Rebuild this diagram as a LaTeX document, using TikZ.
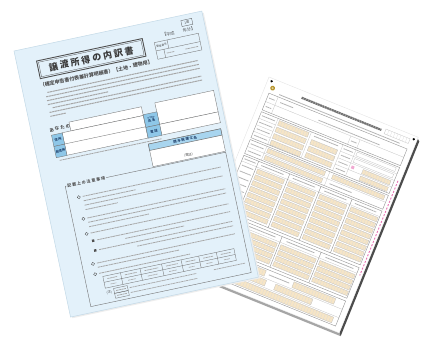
\documentclass[tikz,border=0pt]{standalone}
\usepackage{fontspec}
\newfontfamily\jp{Noto Sans CJK JP}
\definecolor{paperblue}{HTML}{E3F1FA}
\definecolor{edgeblue}{HTML}{C3D9E7}
\definecolor{cellblue}{HTML}{8EC7E8}
\definecolor{barblue}{HTML}{A8D5EF}
\definecolor{ink}{HTML}{505050}
\definecolor{navy}{HTML}{1F3F6A}
\definecolor{beige}{HTML}{F6E5C6}
\definecolor{pinkish}{HTML}{E872B4}
\definecolor{logo}{HTML}{B8962E}
\newcommand\dfield[4]{%
  \fill[beige] (#1,#2) rectangle ++(#3,#4);%
  \pgfmathtruncatemacro\dfn{(#3)/3-0.01}%
  \foreach \j in {1,...,\dfn}{\draw[tick] ({#1+3*\j},#2) -- ++(0,#4);}%
  \draw[rthin] (#1,#2) rectangle ++(#3,#4);}
\begin{document}
\begin{tikzpicture}[x=1pt,y=-1pt,
  txt/.style={line width=1pt, draw=black!35, dash pattern=on 2.2pt off 0.5pt},
  rtxt/.style={line width=0.8pt, draw=black!30, dash pattern=on 1.6pt off 0.4pt},
  frame/.style={draw=black!55, line width=0.35pt},
  rframe/.style={draw=black!42, line width=0.4pt},
  rthin/.style={draw=black!26, line width=0.25pt},
  tick/.style={draw=black!15, line width=0.2pt},
  jpt/.style={font=\jp\fontsize{3.2}{3.6}\selectfont, text=ink, inner sep=0.5pt},
  bluet/.style={font=\jp\bfseries\fontsize{3.2}{3.6}\selectfont, text=navy, inner sep=0.3pt, align=center}]
\useasboundingbox (0,0) rectangle (432,340);
\fill[white] (0,0) rectangle (432,340);

% ---------------- right form (white, tilted clockwise) ----------------
\begin{scope}[shift={(269,77)}, rotate=-22, transform shape]
  \fill[black!70] (161,1.5) -- (163.5,3.5) -- (163.5,213.5) -- (161,211) -- cycle;
  \fill[black!35] (1.5,211) -- (161,211) -- (163.5,213.5) -- (3.5,213.5) -- cycle;
  \fill[white] (0,0) rectangle (161,211);
  \draw[black!12, line width=0.3pt] (0,0) rectangle (161,211);
  \fill[black] (4,3) circle (1.3);
  \fill[black] (157.5,3.5) circle (1.3);
  \fill[logo] (7.5,9) circle (2.4);
  \fill[logo!45!white] (7.5,9) circle (1.1);
  \draw[line width=2.2pt, black!55, dash pattern=on 2pt off 0.5pt] (38,7) -- (124,7);
  \draw[rthin] (128,4.5) rectangle (154,9.5);
  \foreach \k in {1,...,7} \draw[tick] ({128+3.25*\k},4.5) -- ++(0,5);
  \draw[rtxt] (16,12.5) -- (146,12.5);
  % section A
  \draw[rframe] (6,15) rectangle (155,33);
  \draw[rthin] (6,24) -- (155,24) (16,15) -- (16,33) (98,24) -- (98,33) (108,24) -- (108,33);
  \draw[rtxt] (8,19.5) -- (14,19.5) (8,28.5) -- (14,28.5) (100,28.5) -- (106,28.5) (20,19.5) -- (34,19.5) (62,21.5) -- (128,21.5);
  % section B
  \draw[rframe] (6,35) rectangle (155,63);
  \foreach \v in {42,49,56} \draw[rthin] (6,\v) -- (24,\v);
  \draw[rthin] (24,35) -- (24,63) (60,35) -- (60,63) (94,35) -- (94,63) (108,35) -- (108,63);
  \foreach \v in {38.5,45.5,52.5,59.5} \draw[rtxt] (8,\v) -- (22,\v);
  \foreach \k in {0,...,3}{\dfield{26}{36.5+7*\k}{32}{5}}
  \draw[rtxt] (64,38) -- (90,38);
  \foreach \k in {0,1,2}{\dfield{63}{42+7*\k}{28}{5}}
  \foreach \v in {42,49,56} \draw[rthin] (94,\v) -- (155,\v);
  \foreach \v in {38.5,45.5,52.5,59.5} \draw[rtxt] (96,\v) -- (106,\v);
  \draw[rthin] (110,36.5) rectangle (152,40.5) (110,43.5) rectangle (152,47.5);
  \dfield{122}{50.5}{30}{4.5}
  \dfield{122}{57.5}{30}{4.5}
  \fill[pinkish!60] (110,51) rectangle (113,54);
  % section C
  \draw[rframe] (6,65) rectangle (155,80);
  \draw[rthin] (24,65) -- (24,80) (6,72.5) -- (155,72.5) (92,65) -- (92,80);
  \draw[rtxt] (8,68.75) -- (22,68.75) (8,76.25) -- (22,76.25) (96,76.25) -- (120,76.25);
  \dfield{26}{66.5}{62}{4.5}
  \dfield{26}{74}{62}{4.5}
  \dfield{96}{66.5}{56}{4.5}
  % section D
  \draw[rframe] (6,82) rectangle (155,140);
  \draw[rthin] (6,88) -- (155,88);
  \foreach \u in {22,55.6,89.2,122.8} \draw[rframe] (\u,82) -- (\u,140);
  \draw[rtxt] (26,85) -- (50,85) (60,85) -- (84,85) (94,85) -- (118,85) (127,85) -- (150,85) (8,85) -- (20,85);
  \foreach \r in {0,...,7}{\draw[rtxt] (8,{91.8+6.2*\r}) -- (20,{91.8+6.2*\r});}
  \foreach \c in {0,...,3}\foreach \r in {0,...,7}{\dfield{24+33.6*\c}{89.5+6.2*\r}{29}{4.6}}
  % section E
  \draw[rframe] (6,143) rectangle (155,176);
  \draw[rthin] (6,149) -- (155,149);
  \foreach \u in {30,72,114} \draw[rframe] (\u,143) -- (\u,176);
  \draw[rtxt] (36,146) -- (66,146) (78,146) -- (108,146) (120,146) -- (150,146) (8,146) -- (26,146);
  \foreach \r in {0,...,3}{\draw[rtxt] (8,{153.3+6*\r}) -- (26,{153.3+6*\r});}
  \foreach \c in {0,1,2}\foreach \r in {0,...,3}{\dfield{32+42*\c}{151+6*\r}{38}{4.6}}
  % section F
  \draw[rframe] (6,179) rectangle (155,206);
  \draw[rthin] (6,188) -- (155,188) (6,197) -- (155,197) (20,179) -- (20,206);
  \draw[rtxt] (8,183.5) -- (18,183.5) (8,192.5) -- (18,192.5) (8,201.5) -- (18,201.5) (22,183.5) -- (36,183.5) (74,183.5) -- (96,183.5);
  \dfield{40}{180.5}{30}{6}
  \dfield{100}{180.5}{45}{6}
  \dfield{26}{189.5}{48}{6}
  \dfield{84}{189.5}{40}{6}
  \dfield{36}{198.5}{114}{6}
  \draw[pinkish, line width=0.9pt, dash pattern=on 2pt off 1.6pt] (158.5,48) -- (158.5,150);
\end{scope}

% ---------------- left form (light blue, tilted counter-clockwise) ----------------
\begin{scope}[shift={(14,51)}, rotate=12, transform shape]
  \fill[black!7] (1.5,2) rectangle (193.5,273.5);
  \fill[paperblue] (0,0) rectangle (192,272);
  \draw[edgeblue, line width=0.5pt] (0,0) rectangle (192,272);
  % page number and year
  \node[draw=ink, line width=0.3pt, minimum width=11pt, minimum height=6pt, jpt] (men) at (175,8) {1面};
  \node[jpt, font=\jp\fontsize{4.2}{5}\selectfont] (year) at (165,15.5) {【平成　　年分】};
  % reference boxes
  \draw[frame] (139,21) rectangle (184,38);
  \draw[frame] (139,29.5) -- (184,29.5) (152,21) -- (152,29.5) (147,29.5) -- (147,38);
  \node[jpt, font=\jp\fontsize{2.6}{3}\selectfont] (seiri) at (145.5,25.3) {整理番号};
  \draw[txt, line width=0.7pt] (149,33.8) -- (157,33.8) (168,33.8) -- (181,33.8);
  % title
  \draw[ink, line width=0.9pt] (20,14.5) rectangle (128,32.5);
  \draw[ink, line width=0.3pt] (21.6,16.1) rectangle (126.4,30.9);
  \node[font=\jp\bfseries\fontsize{9}{10}\selectfont, text=black!78, inner sep=0pt] (title) at (74,23.7) {譲 渡 所 得 の 内 訳 書};
  \node[font=\jp\bfseries\fontsize{5}{6}\selectfont, text=ink, anchor=west, inner sep=0pt] (sub) at (18,39.5) {（確定申告書付表兼計算明細書）【土地・建物用】};
  % introduction paragraph
  \foreach \y/\a/\b in {47.5/24/178, 51.5/22/178, 55.5/22/178, 59.5/22/84, 63.5/26/178, 67.5/22/178, 71.5/22/38}
    \draw[txt] (\a,\y) -- (\b,\y);
  % personal data
  \node[font=\jp\bfseries\fontsize{4.5}{5}\selectfont, text=ink, anchor=west, inner sep=0pt] (anata) at (18,85) {あ な た の};
  \draw[frame, fill=white] (39,81) rectangle (113,90);
  \draw[frame, fill=white] (30,90) rectangle (113,113);
  \draw[frame] (30,101.5) -- (113,101.5);
  \node[draw=black!55, line width=0.35pt, fill=cellblue, minimum width=11pt, minimum height=11.5pt, bluet, anchor=north west] (jusho) at (19,90) {住 所};
  \node[draw=black!55, line width=0.35pt, fill=cellblue, minimum width=11pt, minimum height=11.5pt, bluet, anchor=north west] (maejusho) at (19,101.5) {前住所};
  \draw[frame, fill=white] (127,80) rectangle (187,102);
  \draw[frame, fill=white] (127,102) rectangle (187,113);
  \node[draw=black!55, line width=0.35pt, fill=cellblue, minimum width=14pt, minimum height=13pt, bluet, anchor=north west] (shimei) at (113,89) {\fontsize{2}{2.4}\selectfont フリガナ\\氏 名};
  \node[draw=black!55, line width=0.35pt, fill=cellblue, minimum width=14pt, minimum height=11pt, bluet, anchor=north west] (denwa) at (113,102) {電 話};
  \draw[txt, line width=0.8pt] (22,116.5) -- (126,116.5);
  % tax accountant box
  \draw[frame, fill=white] (112,119) rectangle (186,142);
  \draw[frame, fill=barblue, line width=0.5pt] (112,119) rectangle (186,125.5);
  \node[bluet, font=\jp\bfseries\fontsize{3.4}{4}\selectfont] (zeirishi) at (149,122.3) {関 与 税 理 士 名};
  \node[jpt] (tel) at (149,138) {（電話）};
  % notes
  \draw[frame, line width=0.4pt] (22,143) rectangle (186,266);
  \node[fill=paperblue, font=\jp\bfseries\fontsize{4}{5}\selectfont, text=ink, anchor=west, inner sep=1pt] (notes) at (23,143) {記 載 上 の 注 意 事 項};
  \foreach \v in {156.5,178.6,194,224.7,235.2} \draw[ink, line width=0.35pt] (33,\v) circle (1.6);
  \foreach \v in {202,212} \fill[ink] (36.8,{\v-1.2}) rectangle (39.2,{\v+1.2});
  \foreach \y/\a/\b in {156.5/37/178, 161/37/90, 165.5/37/178, 170/37/70,
                        178.6/37/178, 183/37/178, 187.5/37/98,
                        194/37/178, 202/42/178, 206.5/70/130, 212/42/178, 216.5/80/178,
                        224.7/37/178, 229/37/120, 235.2/37/130}
    \draw[txt, line width=0.8pt] (\a,\y) -- (\b,\y);
  % table
  \draw[frame] (40,239) rectangle (174,251);
  \draw[frame] (40,245) -- (174,245);
  \foreach \u in {58,78,100,120,138,156} \draw[frame] (\u,239) -- (\u,251);
  \foreach \a/\b in {40/58, 58/78, 78/100, 100/120, 120/138, 138/156, 156/174}{
    \draw[txt, line width=0.7pt] ({\a+4},242) -- ({\b-4},242);
    \draw[txt, line width=0.6pt] ({\a+6},248) -- ({\b-6},248);}
  \node[jpt] (chu) at (43,256) {(注)};
  \draw[frame] (48,253) rectangle (62,258);
  \draw[frame] (48,258) rectangle (62,263);
  \draw[txt, line width=0.7pt] (64,255.5) -- (132,255.5) (64,260.5) -- (132,260.5) (50,255.5) -- (60,255.5) (50,260.5) -- (60,260.5);
  \draw[txt, line width=0.7pt] (150,255.5) -- (182,255.5);
\end{scope}
\end{tikzpicture}
\end{document}
